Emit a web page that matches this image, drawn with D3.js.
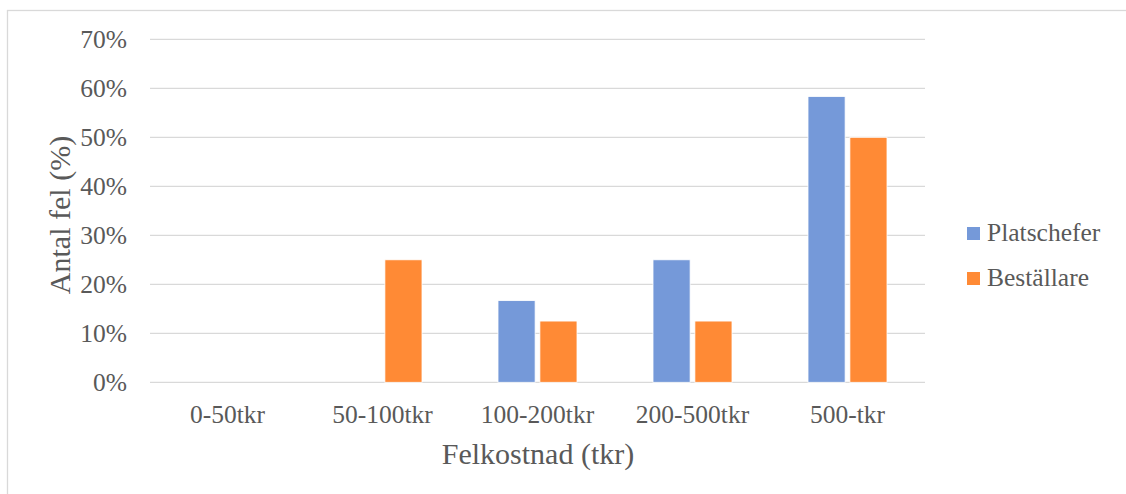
<!DOCTYPE html>
<html>
<head>
<meta charset="utf-8">
<script src="https://cdn.jsdelivr.net/npm/d3@7"></script>
<style>
  html, body { margin: 0; padding: 0; background: #fff; }
  svg { display: block; }
  text { font-family: "Liberation Serif", "DejaVu Serif", serif; fill: #595959; }
</style>
</head>
<body>
<svg id="chart" width="1126" height="494"></svg>
<script>
// Cost brackets and share of errors reported by each group
const categories = ["0-50tkr", "50-100tkr", "100-200tkr", "200-500tkr", "500-tkr"];
const seriesNames = ["Platschefer", "Beställare"];
const platschefer = [0, 0, 0.1667, 0.25, 0.5833];
const bestallare = [0, 0.25, 0.125, 0.125, 0.50];
const yTicks = [0, 0.1, 0.2, 0.3, 0.4, 0.5, 0.6, 0.7];
const colors = ["#7599d9", "#ff8a35"];
const xTitle = "Felkostnad (tkr)";
const yTitle = "Antal fel (%)";

const FONT = "Liberation Serif, DejaVu Serif, serif";
const LABEL_SIZE = 25.5;
const TITLE_SIZE = 30;
const svg = d3.select("#chart");
const plot = { left: 150, right: 925, top: 39.3, bottom: 382.3 };

// Outer frame
svg.append("rect")
  .attr("x", 7.5).attr("y", 10.5)
  .attr("width", 1140).attr("height", 500)
  .attr("fill", "none").attr("stroke", "#d9d9d9").attr("stroke-width", 1.3);

const x = d3.scaleBand().domain(categories).range([plot.left, plot.right]);
const y = d3.scaleLinear().domain([0, 0.7]).range([plot.bottom, plot.top]);

// Gridlines
svg.append("g").selectAll("line").data(yTicks).join("line")
  .attr("x1", plot.left).attr("x2", plot.right)
  .attr("y1", d => y(d)).attr("y2", d => y(d))
  .attr("stroke", "#d9d9d9").attr("stroke-width", 1.3);

// Y axis tick labels
const yAxis = d3.axisLeft(y).tickValues(yTicks).tickFormat(d3.format(".0%")).tickSize(0).tickPadding(0);
const gy = svg.append("g").attr("transform", "translate(127,0)").call(yAxis);
gy.attr("font-family", FONT);
gy.select(".domain").remove();
gy.selectAll("text").attr("font-size", LABEL_SIZE).attr("fill", "#595959").attr("dy", "0.33em");

// X axis tick labels
const xAxis = d3.axisBottom(x).tickSize(0).tickPadding(0);
const gx = svg.append("g").attr("transform", "translate(0,423)").call(xAxis);
gx.attr("font-family", FONT);
gx.select(".domain").remove();
gx.selectAll("text").attr("font-size", LABEL_SIZE).attr("fill", "#595959").attr("dy", 0);

// Bars
const inner = d3.scaleBand().domain(seriesNames).range([0, 79]).paddingInner(0.114);
const data = [platschefer, bestallare];
const groupOffset = (x.bandwidth() - 79) / 2;
data.forEach((vals, si) => {
  svg.append("g").selectAll("rect").data(vals.map((v, i) => ({ v, c: categories[i] })))
    .join("rect")
    .filter(d => d.v > 0)
    .attr("x", d => x(d.c) + groupOffset + inner(seriesNames[si]))
    .attr("y", d => y(d.v))
    .attr("width", inner.bandwidth())
    .attr("height", d => y(0) - y(d.v))
    .attr("fill", colors[si])
    .attr("stroke", "#fff").attr("stroke-width", 0.8);
});

// Axis titles
svg.append("text").attr("x", 538).attr("y", 464)
  .attr("text-anchor", "middle").attr("font-size", TITLE_SIZE).text(xTitle);
svg.append("text")
  .attr("transform", "translate(70,215) rotate(-90)")
  .attr("text-anchor", "middle").attr("font-size", TITLE_SIZE).text(yTitle);

// Legend
const legend = svg.append("g").selectAll("g").data(seriesNames).join("g")
  .attr("transform", (d, i) => `translate(967,${227 + i * 45})`);
legend.append("rect").attr("width", 13).attr("height", 13).attr("fill", (d, i) => colors[i]);
legend.append("text").attr("x", 20).attr("y", 14).attr("font-size", LABEL_SIZE).text(d => d);
</script>
</body>
</html>
